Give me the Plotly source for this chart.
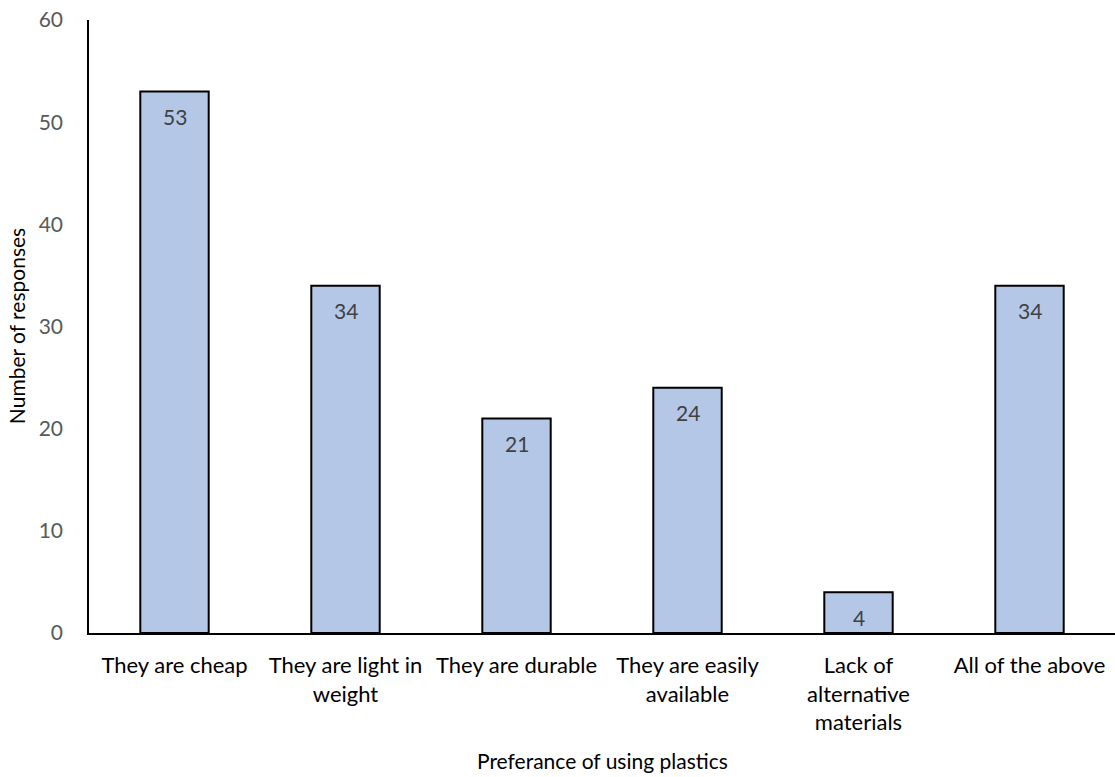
import plotly.graph_objects as go

categories = ["They are cheap", "They are light in<br>weight", "They are durable",
              "They are easily<br>available", "Lack of<br>alternative<br>materials", "All of the above"]
responses = [53, 34, 21, 24, 4, 34]
y_ticks = [0, 10, 20, 30, 40, 50, 60]

FONT = "Lato, 'Open Sans', sans-serif"

fig = go.Figure(go.Bar(
    x=categories, y=responses,
    marker=dict(color="#B4C7E7", line=dict(color="#000000", width=2)),
    width=0.4,
    cliponaxis=False,
))

for c, v in zip(categories, responses):
    fig.add_annotation(x=c, y=v, text=str(v), showarrow=False, yanchor="middle",
                       yshift=-25, font=dict(family=FONT, size=21, color="#404040"))

fig.add_annotation(xref="paper", yref="paper", x=0.5, y=-0.208, yanchor="middle",
                   text="Preferance of using plastics", showarrow=False,
                   font=dict(family=FONT, size=21, color="#000000"))
fig.add_annotation(xref="paper", yref="paper", x=-0.0705, xanchor="center", y=0.5,
                   text="Number of responses", showarrow=False, textangle=-90,
                   font=dict(family=FONT, size=21, color="#000000"))

fig.update_layout(
    width=1115, height=777,
    margin=dict(l=89, r=0, t=20, b=144),
    plot_bgcolor="white", paper_bgcolor="white",
    showlegend=False,
    font=dict(family=FONT, size=21, color="#000000"),
    xaxis=dict(
        automargin=False,
        showline=True, linecolor="#000000", linewidth=1.5,
        showgrid=False, ticks="", tickfont=dict(size=22, color="#000000"),
        ticklabelstandoff=12,
    ),
    yaxis=dict(
        automargin=False,
        range=[0, 60], tickvals=y_ticks, showline=True, linecolor="#000000", linewidth=1.5,
        showgrid=False, ticks="", zeroline=False,
        tickfont=dict(size=21, color="#595959"), ticklabelstandoff=20,
    ),
)

fig.write_html("out.html", config={"displayModeBar": False},
               post_script="document.body.style.margin='0';document.body.style.overflow='hidden';")
